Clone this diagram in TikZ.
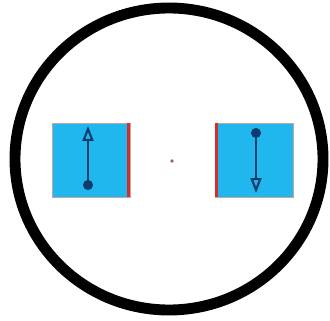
\documentclass[tikz,border=0pt]{standalone}
\usepackage{tikz}
\usetikzlibrary{arrows.meta,positioning}

\definecolor{plateblue}{RGB}{32,182,238}
\definecolor{arrowblue}{RGB}{10,60,110}
\definecolor{edgered}{RGB}{215,45,40}

\begin{document}
\begin{tikzpicture}[
    x=0.02cm, y=-0.02cm,
    plate/.style={rectangle, draw=edgered!25!gray!60, line width=0.3pt, fill=plateblue, minimum width=1.56cm, minimum height=1.48cm, inner sep=0pt},
    spin/.style={{Circle[length=2mm]}-{Triangle[open, length=3mm, width=2.2mm]}, draw=arrowblue, line width=1.2pt},
    redge/.style={draw=edgered, line width=1.6pt}
]
\useasboundingbox (0,0) rectangle (330,320);
\draw[line width=6.2pt] (169,159) ellipse [x radius=154, y radius=151];

\node[plate] (left) at (91,160) {};
\node[plate] (right) at (254.5,160) {};
\draw[redge] ([xshift=-0.8pt]left.north east) -- ([xshift=-0.8pt]left.south east);
\draw[redge] ([xshift=0.8pt]right.north west) -- ([xshift=0.8pt]right.south west);

\coordinate (lbot) at (88,190);
\coordinate (ltop) at (88,126);
\coordinate (rtop) at (256,128);
\coordinate (rbot) at (256,193);
\draw[spin] (lbot) -- (ltop);
\draw[spin] (rtop) -- (rbot);

\node[circle, fill=gray!80!red, inner sep=0pt, minimum size=2pt] (centre) at (172,161) {};
\end{tikzpicture}
\end{document}
